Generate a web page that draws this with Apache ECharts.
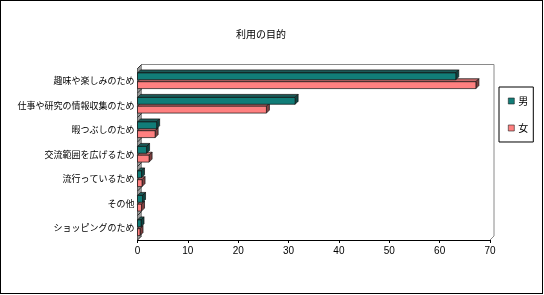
<!DOCTYPE html>
<html>
<head>
<meta charset="utf-8">
<script src="https://cdn.jsdelivr.net/npm/echarts@6/dist/echarts.min.js"></script>
<style>
html,body{margin:0;padding:0;background:#fff;}
#frame{position:absolute;left:0;top:0;width:541px;height:292px;border:1px solid #000;}
#chart{position:absolute;left:0;top:0;width:544px;height:295px;}
</style>
</head>
<body>
<div id="frame"></div>
<div id="chart"></div>
<script>
const titleText = '利用の目的';
const categories = ['趣味や楽しみのため','仕事や研究の情報収集のため','暇つぶしのため','交流範囲を広げるため','流行っているため','その他','ショッピングのため'];
const seriesNames = ['男','女'];
const maleValues = [63.2, 31.3, 3.8, 1.8, 0.8, 1.0, 0.7];
const femaleValues = [67.2, 25.6, 3.5, 2.3, 0.9, 0.8, 0.5];
const xTicks = { min: 0, max: 70, interval: 10 };

const FONT = '"Noto Sans CJK JP", sans-serif';
const styles = {
  '男': { front: '#117d78', top: '#1c5957', side: '#0e4442' },
  '女': { front: '#ff8080', top: '#c86a6a', side: '#7f4040' }
};

function barRenderer(name, slot) {
  return function (params, api) {
    const cat = api.value(1);
    const v = api.value(0);
    const c = api.coord([0, cat]);
    const e = api.coord([v, cat]);
    const band = api.size([0, 1])[1];
    const h = band * 0.28;
    const d = 3;
    const gap = band * 0.04;
    const yTop = slot === 0 ? c[1] - gap - h : c[1] + gap;
    const x0 = c[0], x1 = e[0];
    const st = styles[name];
    const stroke = { stroke: '#111', lineWidth: 0.7 };
    return {
      type: 'group',
      children: [
        { type: 'polygon', shape: { points: [[x0, yTop], [x0 + d, yTop - d], [x1 + d, yTop - d], [x1, yTop]] },
          style: Object.assign({ fill: st.top }, stroke) },
        { type: 'polygon', shape: { points: [[x1, yTop], [x1 + d, yTop - d], [x1 + d, yTop + h - d], [x1, yTop + h]] },
          style: Object.assign({ fill: st.side }, stroke) },
        { type: 'rect', shape: { x: x0, y: yTop, width: Math.max(x1 - x0, 0), height: h },
          style: Object.assign({ fill: st.front }, stroke) }
      ]
    };
  };
}

function wallRenderer(params, api) {
  const n = categories.length;
  const band = api.size([0, 1])[1];
  const first = api.coord([xTicks.min, 0]);
  const last = api.coord([xTicks.max, n - 1]);
  const x0 = first[0], x1 = last[0];
  const top = first[1] - band / 2, bot = last[1] + band / 2;
  const d = 4;
  const grey = '#8a8a8a';
  const children = [
    { type: 'polygon', shape: { points: [[x0, top], [x0 + d, top - d], [x0 + d, bot - d], [x0, bot]] },
      style: { fill: '#9a9a9a', stroke: '#6a6a6a', lineWidth: 0.6 } },
    { type: 'polyline', shape: { points: [[x0 + d, top - d], [x1 + d, top - d], [x1 + d, bot - d], [x1, bot]] },
      style: { fill: null, stroke: grey, lineWidth: 1 } }
  ];
  for (let i = 0; i <= n; i++) {
    const y = top + i * band;
    children.push({ type: 'line', shape: { x1: x0, y1: y, x2: x0 + d, y2: y - d },
      style: { stroke: '#333', lineWidth: 1 } });
  }
  return { type: 'group', children: children };
}

const chart = echarts.init(document.getElementById('chart'), null, { renderer: 'canvas' });
chart.setOption({
  animation: false,
  backgroundColor: 'transparent',
  textStyle: { fontFamily: FONT },
  title: {
    text: titleText, left: 231, top: 24,
    textStyle: { fontSize: 10, fontWeight: 'normal', color: '#000', fontFamily: FONT }
  },
  legend: {
    orient: 'vertical', left: 499, top: 87,
    data: seriesNames.map(n => ({ name: n, icon: 'rect', itemStyle: { color: styles[n].front, borderColor: '#222', borderWidth: 0.6 } })),
    itemWidth: 6, itemHeight: 6, itemGap: 17, padding: [9, 5, 9, 9],
    borderColor: '#000', borderWidth: 1,
    textStyle: { fontSize: 10, color: '#000', fontFamily: FONT, padding: [0, 0, 0, -1] },
    selectedMode: false
  },
  grid: { left: 137.5, right: 54, top: 68.5, bottom: 55 },
  xAxis: {
    type: 'value', min: xTicks.min, max: xTicks.max, interval: xTicks.interval,
    axisLine: { show: true, lineStyle: { color: '#000', width: 1 } },
    axisTick: { show: true, length: 3, lineStyle: { color: '#000' } },
    splitLine: { show: false },
    axisLabel: { fontSize: 10, color: '#000', margin: 6, fontFamily: '"Liberation Sans", Arial, sans-serif' }
  },
  yAxis: {
    type: 'category', data: categories, inverse: true,
    axisLine: { show: true, lineStyle: { color: '#000', width: 1 } },
    axisTick: { show: false },
    axisLabel: { fontSize: 9, color: '#000', margin: 3, fontFamily: FONT }
  },
  series: [
    { type: 'custom', name: 'wall', renderItem: wallRenderer, data: [[0, 0]], encode: { x: 0, y: 1 }, z: 1, silent: true, legendHoverLink: false },
    { type: 'custom', name: '女', renderItem: barRenderer('女', 1), itemStyle: { color: styles['女'].front },
      data: femaleValues.map((v, i) => [v, i]), encode: { x: 0, y: 1 }, z: 2 },
    { type: 'custom', name: '男', renderItem: barRenderer('男', 0), itemStyle: { color: styles['男'].front },
      data: maleValues.map((v, i) => [v, i]), encode: { x: 0, y: 1 }, z: 3 }
  ]
});
</script>
</body>
</html>
